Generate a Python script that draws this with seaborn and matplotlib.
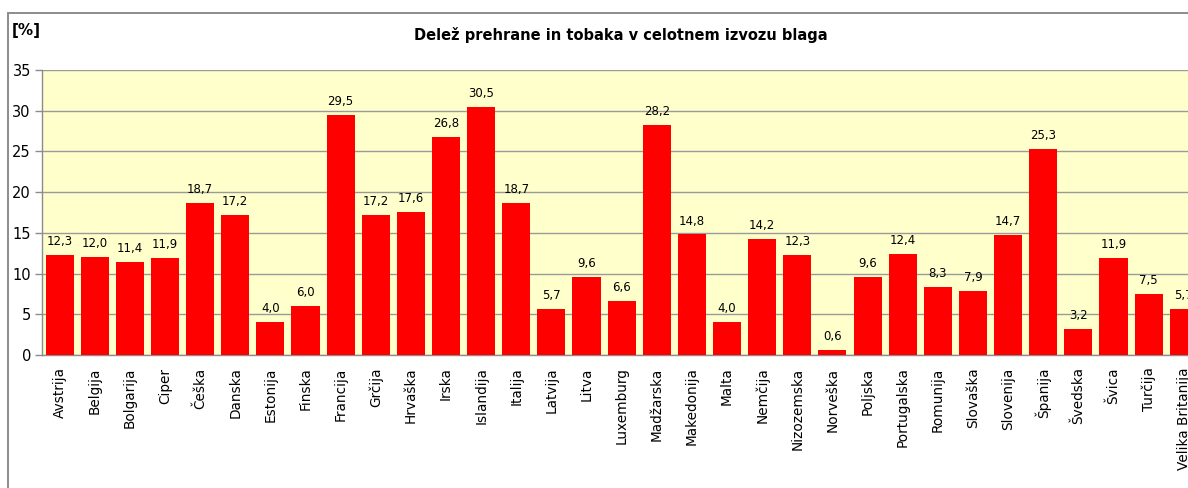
import matplotlib
matplotlib.use("Agg")
import matplotlib.pyplot as plt
import seaborn as sns
import pandas as pd
from matplotlib.patches import Rectangle

countries = ["Avstrija", "Belgija", "Bolgarija", "Ciper", "Češka", "Danska", "Estonija",
             "Finska", "Francija", "Grčija", "Hrvaška", "Irska", "Islandija", "Italija",
             "Latvija", "Litva", "Luxemburg", "Madžarska", "Makedonija", "Malta", "Nemčija",
             "Nizozemska", "Norveška", "Poljska", "Portugalska", "Romunija", "Slovaška",
             "Slovenija", "Španija", "Švedska", "Švica", "Turčija", "Velika Britanija"]
values = [12.3, 12.0, 11.4, 11.9, 18.7, 17.2, 4.0, 6.0, 29.5, 17.2, 17.6, 26.8, 30.5, 18.7,
          5.7, 9.6, 6.6, 28.2, 14.8, 4.0, 14.2, 12.3, 0.6, 9.6, 12.4, 8.3, 7.9, 14.7, 25.3,
          3.2, 11.9, 7.5, 5.7]
yticks = [0, 5, 10, 15, 20, 25, 30, 35]
title = "Delež prehrane in tobaka v celotnem izvozu blaga"
unit_label = "[%]"

df = pd.DataFrame({"country": countries, "value": values})

sns.set_theme(style="white")
plt.rcParams['font.family'] = ['DejaVu Sans']
plt.rcParams['text.color'] = 'black'
plt.rcParams['xtick.color'] = 'black'
plt.rcParams['ytick.color'] = 'black'

W, H = 1188, 488
fig = plt.figure(figsize=(W / 100, H / 100), dpi=100)
fig.patch.set_facecolor("white")

# outer chart frame (cropped on right and bottom)
fig.patches.append(Rectangle((8 / W, -0.1), 1.2, (H - 13) / H + 0.1, transform=fig.transFigure,
                             fill=False, edgecolor="#8c8c8c", linewidth=1.4, zorder=0))

left, right_px = 42, 42 + 33 * 35.13
top, bottom = 70, 355
ax = fig.add_axes([left / W, (H - bottom) / H, (right_px - left) / W, (bottom - top) / H])
ax.set_facecolor("#FFFFCC")

sns.barplot(data=df, x="country", y="value", color="#FF0000", width=0.8, saturation=1,
            edgecolor="none", ax=ax, zorder=3)

ax.set_xlim(-0.5, len(countries) - 0.5)
ax.set_ylim(0, 35)
ax.set_yticks(yticks)
ax.set_yticklabels([str(t) for t in yticks], fontsize=10.5, color="black")
ax.yaxis.grid(True, color="#9a9a9a", linewidth=1.0, zorder=0)
ax.set_axisbelow(True)
ax.set_xlabel("")
ax.set_ylabel("")

ax.set_xticks(range(len(countries)))
ax.set_xticklabels(countries, rotation=90, fontsize=9.8, color="black")
ax.set_xticks([i - 0.5 for i in range(len(countries) + 1)], minor=True)
ax.tick_params(axis="x", which="major", length=0, pad=9)
ax.tick_params(axis="x", which="minor", length=5, color="#8c8c8c", width=1)
ax.tick_params(axis="y", which="major", length=5, color="#8c8c8c", width=1, left=True, pad=3)

for s in ["top", "right"]:
    ax.spines[s].set_visible(False)
for s in ["left", "bottom"]:
    ax.spines[s].set_color("#8c8c8c")
    ax.spines[s].set_linewidth(1.0)

for i, v in enumerate(values):
    ax.annotate(f"{v:.1f}".replace(".", ","), (i, v), xytext=(0, 5), textcoords="offset points",
                ha="center", va="bottom", fontsize=8.5, color="black", zorder=5)

fig.text(621 / W, 1 - 35 / H, title, ha="center", va="center", fontsize=10.5,
         fontweight="bold", color="black")
fig.text(12 / W, 1 - 30 / H, unit_label, ha="left", va="center", fontsize=11,
         fontweight="bold", color="black")

fig.savefig("out.png", dpi=100)
